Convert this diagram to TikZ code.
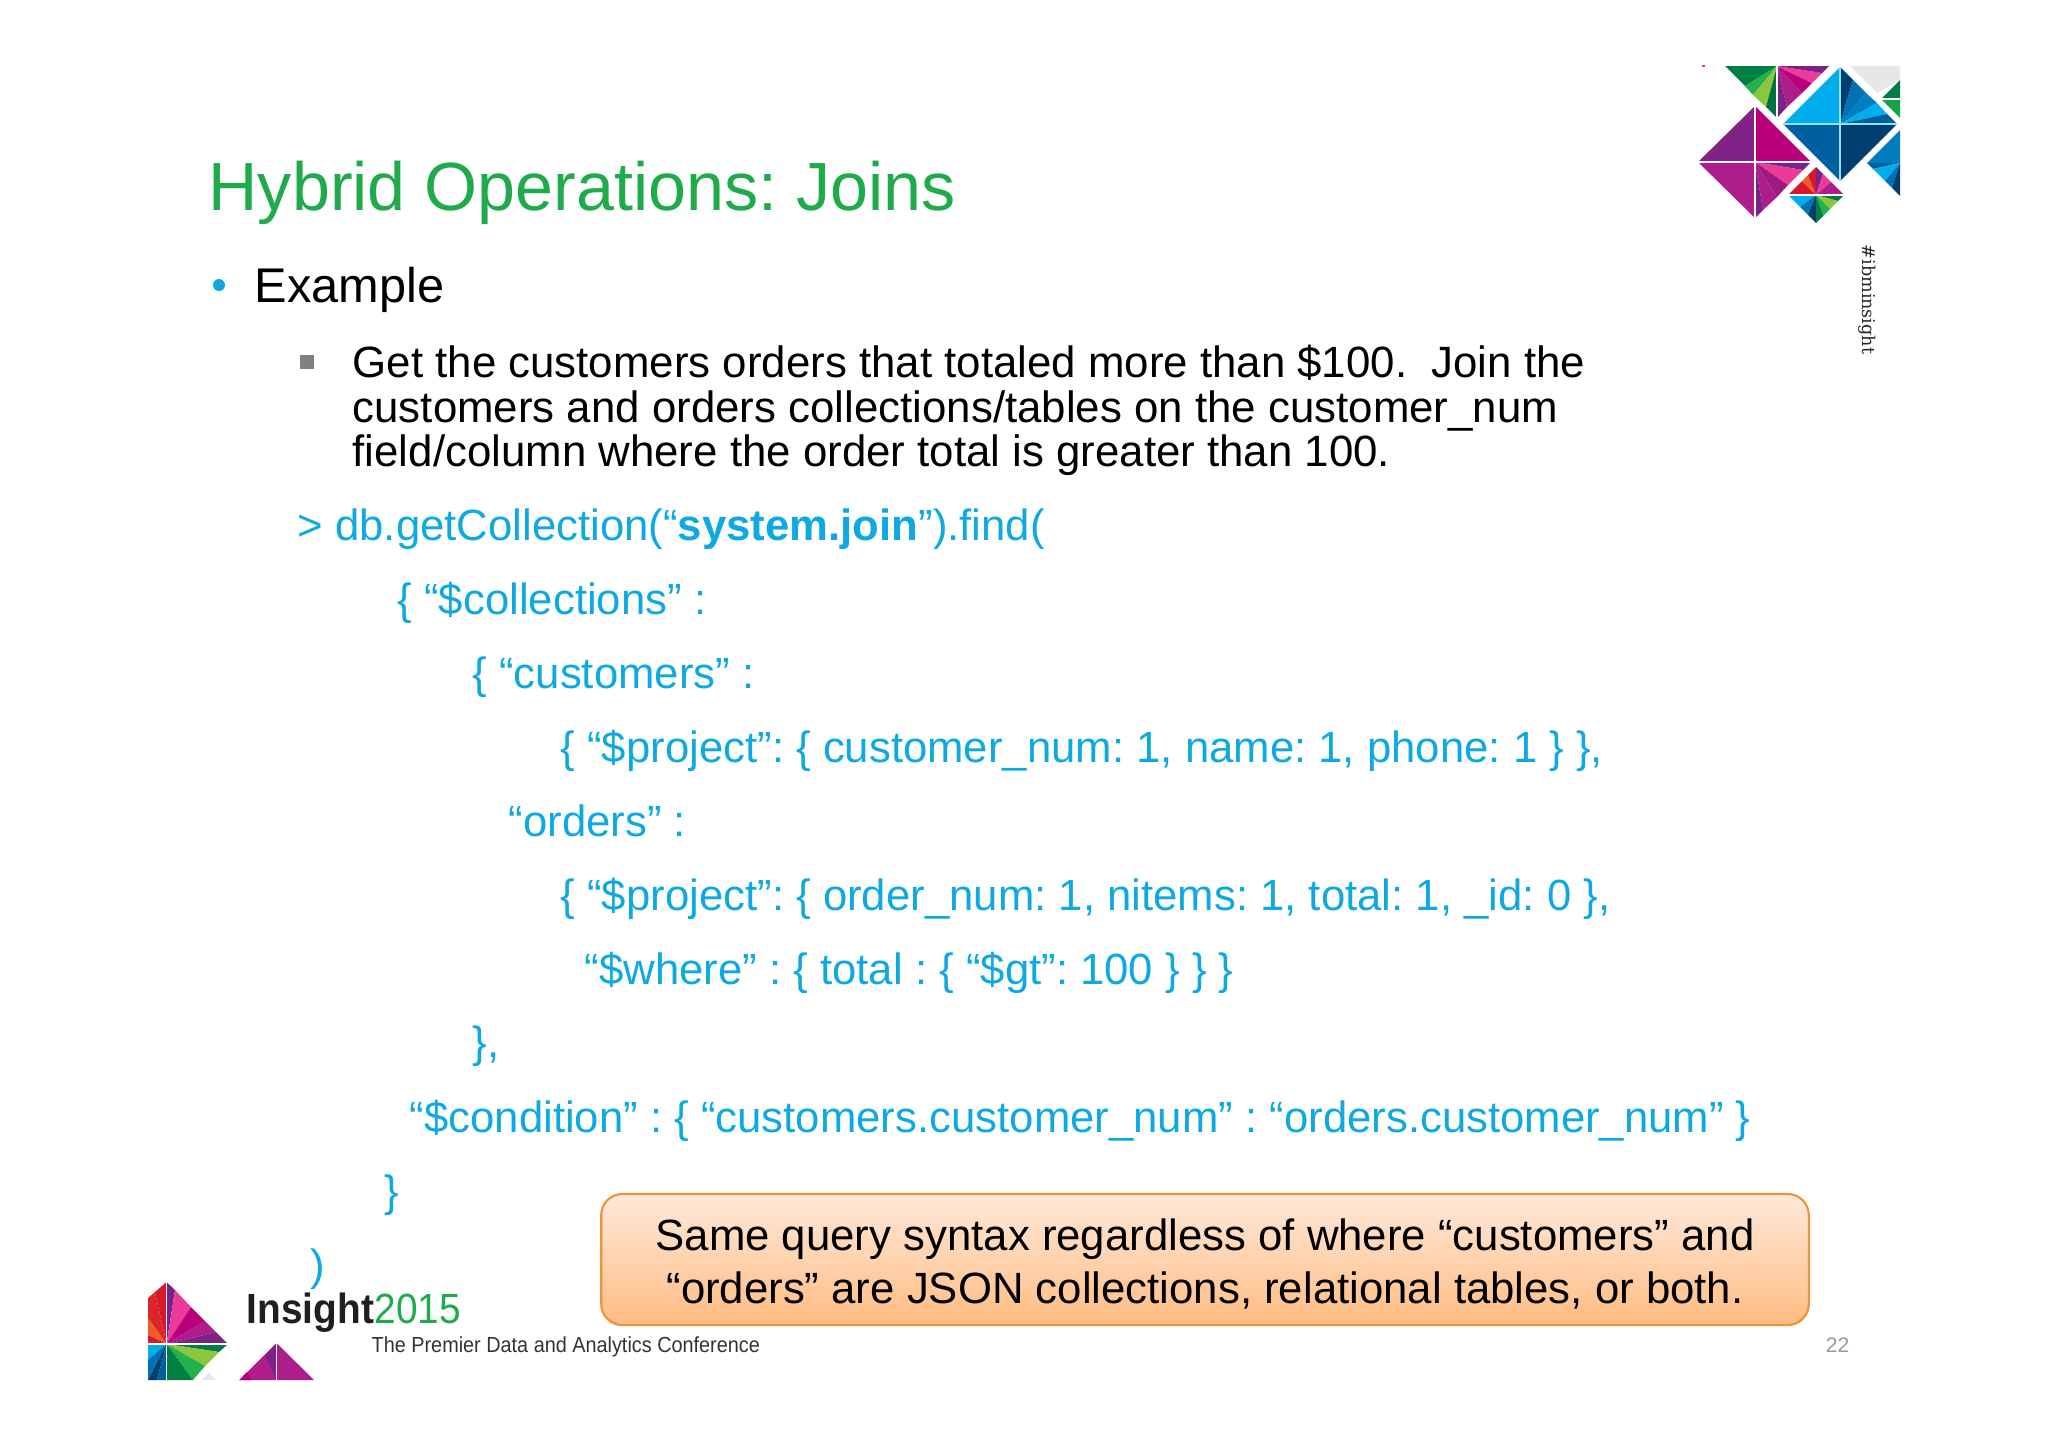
\documentclass[tikz,border=0pt]{standalone}
\usepackage{fontspec}
\setmainfont{Liberation Sans}
\newfontfamily\slabfont{DejaVu Serif}
\frenchspacing
\usetikzlibrary{positioning,calc}
\definecolor{titlegreen}{HTML}{1FAA4B}
\definecolor{codeblue}{HTML}{0FA9E2}
\definecolor{boxline}{HTML}{EE9138}
\definecolor{boxtop}{HTML}{FFE9DA}
\definecolor{boxbot}{HTML}{FFBC82}
\definecolor{lgreen}{HTML}{007F45}
\definecolor{mgreen}{HTML}{22B14C}
\definecolor{lime}{HTML}{8CC63F}
\definecolor{lcyan}{HTML}{00AEEF}
\definecolor{lblue}{HTML}{0072B5}
\definecolor{lmid}{HTML}{005F9E}
\definecolor{lnavy}{HTML}{003E70}
\definecolor{lpink}{HTML}{EC3A9B}
\definecolor{lmag}{HTML}{B9007A}
\definecolor{lviol}{HTML}{AE1D8C}
\definecolor{lpurp}{HTML}{7A2285}
\definecolor{lred}{HTML}{D7182A}
\definecolor{lorange}{HTML}{F15A29}
\definecolor{lgray}{HTML}{E6E7E8}
\tikzset{
  bodytext/.style={anchor=base west,inner sep=0pt,font=\fontsize{12.46}{14}\selectfont},
  codetext/.style={anchor=base west,inner sep=0pt,text=codeblue,font=\fontsize{12.43}{14}\selectfont},
  sepline/.style={white,line width=0.5pt},
}
\begin{document}
\begin{tikzpicture}[x=0.01cm,y=-0.01cm]
	\useasboundingbox (0,0) rectangle (2048,1447);
	% heading and text
	\node[anchor=base west,inner sep=0pt,text=titlegreen,font=\fontsize{19.4}{22}\selectfont] (title) at (208,210) {Hybrid Operations: Joins};
	\fill[codeblue] (219,285) circle (6);
	\node[bodytext,font=\fontsize{13.85}{15}\selectfont] (example) at (254,302) {Example};
	\fill[gray] (300,355) rectangle (314,369);
	\node[bodytext] (getA) at (352,377) {Get the customers orders that totaled more than \$100.\ \ Join the};
	\node[bodytext] (getB) at (352,422) {customers and orders collections/tables on the customer\_num};
	\node[bodytext] (getC) at (352,466) {field/column where the order total is greater than 100.};
	% query
	\node[codetext] (lineA) at (297,540) {> db.getCollection(“\textbf{system.join}”).find(};
	\node[codetext] (lineB) at (397,614) {\{ “\$collections” :};
	\node[codetext] (lineC) at (472,688) {\{ “customers” :};
	\node[codetext] (lineD) at (560,762) {\{ “\$project”: \{ customer\_num: 1, name: 1, phone: 1 \} \},};
	\node[codetext] (lineE) at (508,836) {“orders” :};
	\node[codetext] (lineF) at (560,910) {\{ “\$project”: \{ order\_num: 1, nitems: 1, total: 1, \_id: 0 \},};
	\node[codetext] (lineG) at (584,984) {“\$where” : \{ total : \{ “\$gt”: 100 \} \} \}};
	\node[codetext] (lineH) at (472,1057) {\},};
	\node[codetext] (lineI) at (409,1132) {“\$condition” : \{ “customers.customer\_num” : “orders.customer\_num” \}};
	\node[codetext] (lineJ) at (384,1206) {\}};
	\node[codetext] (lineK) at (310,1280) {)};
	\fill[white] (240,1292) rectangle (470,1310);
	% callout
	\node[draw=boxline,line width=0.6pt,rounded corners=6pt,top color=boxtop,bottom color=boxbot,minimum width=1207*0.2845pt,minimum height=131*0.2845pt,inner sep=0pt] (calloutbox) at (1205,1259.5) {};
	\node[inner sep=0pt,align=center,font=\fontsize{12.44}{14.9}\selectfont] (callout) at (1205,1264) {Same query syntax regardless of where “customers” and\\“orders” are JSON collections, relational tables, or both.};
	% footer
	\node[anchor=base west,inner sep=0pt,text=black!88,font=\bfseries\fontsize{12}{14}\selectfont] (insight) at (246,1323) {\scalebox{0.92}[1]{Insight}};
	\node[anchor=base west,inner sep=0pt,text=titlegreen,font=\fontsize{12}{14}\selectfont] (year) at (374,1323) {\scalebox{0.92}[1]{2015}};
	\node[anchor=base west,inner sep=0pt,text=black!80,font=\fontsize{6.2}{8}\selectfont] (tagline) at (371,1352) {\scalebox{0.91}[1]{The Premier Data and Analytics Conference}};
	\node[anchor=base east,inner sep=0pt,text=black!40,font=\fontsize{6}{8}\selectfont] (page) at (1850,1352) {22};
	\node[anchor=base west,rotate=-90,inner sep=0pt,text=black!85,font=\slabfont\fontsize{5}{7}\selectfont] (tag) at (1862,244) {\#ibminsight};
	% top triangle
	\coordinate (A) at (1777,66);
	\fill[lgreen] (A) -- (1725,66) -- (1745,86) -- cycle;
	\fill[mgreen] (A) -- (1745,86) -- (1753,95) -- cycle;
	\fill[lime] (A) -- (1753,95) -- (1766,107) -- cycle;
	\fill[lgreen!90!black] (A) -- (1766,107) -- (1777,118) -- cycle;
	\fill[lpurp] (A) -- (1777,118) -- (1787,107) -- cycle;
	\fill[lviol] (A) -- (1787,107) -- (1802,93) -- cycle;
	\fill[lmag] (A) -- (1802,93) -- (1812,83) -- cycle;
	\fill[lpink] (A) -- (1812,83) -- (1822,73) -- cycle;
	\fill[lpurp] (A) -- (1822,73) -- (1829,66) -- cycle;
	\draw[sepline] (A) -- (1777,118);
	% magenta diamond
	\coordinate (B) at (1755,162);
	\fill[lpurp!85!lviol] (B) -- (1698,162) -- (1755,106) -- cycle;
	\fill[lmag] (B) -- (1755,106) -- (1811,162) -- cycle;
	\fill[lviol] (B) -- (1698,162) -- (1755,218) -- cycle;
	\fill[lpurp] (B) -- (1811,162) -- (1803,170) -- cycle;
	\fill[lpink] (B) -- (1803,170) -- (1788,185) -- cycle;
	\fill[lviol!90!black] (B) -- (1788,185) -- (1777,197) -- cycle;
	\fill[lviol] (B) -- (1777,197) -- (1763,210) -- cycle;
	\fill[lpurp] (B) -- (1763,210) -- (1755,218) -- cycle;
	\draw[sepline] (1698,162) -- (1811,162);
	\draw[sepline] (1755,106) -- (1755,218);
	% blue diamond
	\coordinate (C) at (1840,124);
	\fill[lcyan] (C) -- (1783,124) -- (1840,67) -- cycle;
	\fill[lmid] (C) -- (1783,124) -- (1840,181) -- cycle;
	\fill[lnavy] (C) -- (1897,124) -- (1840,181) -- cycle;
	\fill[lnavy] (C) -- (1840,67) -- (1853,80) -- cycle;
	\fill[lblue] (C) -- (1853,80) -- (1866,93) -- cycle;
	\fill[lblue!80!lcyan] (C) -- (1866,93) -- (1877,103) -- cycle;
	\fill[lcyan] (C) -- (1877,103) -- (1887,114) -- cycle;
	\fill[lmid] (C) -- (1887,114) -- (1897,124) -- cycle;
	\draw[sepline,lcyan!40] (1783,124) -- (1897,124);
	\draw[sepline,lcyan!40] (1840,67) -- (1840,181);
	% small diamond
	\coordinate (D) at (1816,195);
	\fill[lred] (D) -- (1788,195) -- (1802,181) -- cycle;
	\fill[lorange] (D) -- (1802,181) -- (1808,175) -- cycle;
	\fill[lred] (D) -- (1808,175) -- (1816,167) -- cycle;
	\fill[lpurp] (D) -- (1816,167) -- (1823,174) -- cycle;
	\fill[lpink] (D) -- (1823,174) -- (1831,182) -- cycle;
	\fill[lviol] (D) -- (1831,182) -- (1844,195) -- cycle;
	\fill[lcyan] (D) -- (1788,195) -- (1800,207) -- cycle;
	\fill[lblue] (D) -- (1800,207) -- (1808,215) -- cycle;
	\fill[lnavy] (D) -- (1808,215) -- (1816,223) -- cycle;
	\fill[lgreen] (D) -- (1844,195) -- (1838,201) -- cycle;
	\fill[lime] (D) -- (1838,201) -- (1830,209) -- cycle;
	\fill[mgreen] (D) -- (1830,209) -- (1823,216) -- cycle;
	\fill[lgreen] (D) -- (1823,216) -- (1816,223) -- cycle;
	\draw[sepline] (1788,195) -- (1844,195);
	% right edge pieces
	\fill[lgray] (1850,66) -- (1900,66) -- (1900,80) -- (1877,93) -- cycle;
	\fill[lgreen] (1881,99) -- (1900,80) -- (1900,99) -- cycle;
	\fill[mgreen!70!lgreen] (1881,99) -- (1900,99) -- (1900,118) -- cycle;
	\draw[sepline] (1881,99) -- (1900,99);
	\coordinate (E) at (1900,163);
	\fill[lblue!85!lcyan] (E) -- (1867,163) -- (1900,130) -- cycle;
	\fill[lmid] (E) -- (1867,163) -- (1873,169) -- cycle;
	\fill[lcyan] (E) -- (1873,169) -- (1885,181) -- cycle;
	\fill[lblue] (E) -- (1885,181) -- (1892,188) -- cycle;
	\fill[lnavy] (E) -- (1892,188) -- (1900,196) -- cycle;
	\fill[lpink] (1702,65) rectangle (1705,67);
	% footer logo
	\coordinate (F) at (166.6,1344);
	\fill[lred] (F) -- (166.6,1282) -- (155,1292) -- cycle;
	\fill[lred!80!lorange] (F) -- (155,1292) -- (148,1298) -- (148,1318) -- cycle;
	\fill[lorange] (F) -- (148,1318) -- (148,1335) -- cycle;
	\fill[lred] (F) -- (148,1335) -- (148,1344) -- cycle;
	\fill[lpurp] (F) -- (166.6,1282) -- (175,1290) -- cycle;
	\fill[lpink] (F) -- (175,1290) -- (191,1307) -- cycle;
	\fill[lmag] (F) -- (191,1307) -- (205,1321) -- cycle;
	\fill[lviol] (F) -- (205,1321) -- (216,1332) -- cycle;
	\fill[lpurp] (F) -- (216,1332) -- (228,1344) -- cycle;
	\fill[lcyan] (F) -- (148,1344) -- (148,1360) -- cycle;
	\fill[lblue] (F) -- (148,1360) -- (148,1380) -- cycle;
	\fill[lnavy] (F) -- (148,1380) -- (157,1380) -- cycle;
	\fill[lmid] (F) -- (157,1380) -- (166.6,1380) -- cycle;
	\fill[lgreen] (F) -- (228,1344) -- (219,1352) -- cycle;
	\fill[lime] (F) -- (219,1352) -- (205,1366) -- cycle;
	\fill[mgreen] (F) -- (205,1366) -- (193,1380) -- cycle;
	\fill[lgreen] (F) -- (193,1380) -- (166.6,1380) -- cycle;
	\draw[sepline] (148,1344) -- (228,1344);
	\draw[sepline] (166.6,1282) -- (166.6,1380);
	\fill[lgray] (201.5,1380) -- (209,1373) -- (216,1380) -- cycle;
	\fill[lviol] (239.4,1380) -- (276.5,1343) -- (276.5,1380) -- cycle;
	\fill[lmag] (239.4,1380) -- (247,1372) -- (252,1380) -- cycle;
	\fill[lpurp] (276.5,1343) -- (265,1355) -- (276.5,1380) -- cycle;
	\fill[lviol] (276.5,1343) -- (314,1380) -- (276.5,1380) -- cycle;
	\draw[sepline] (276.5,1343) -- (276.5,1380);
\end{tikzpicture}
\end{document}
